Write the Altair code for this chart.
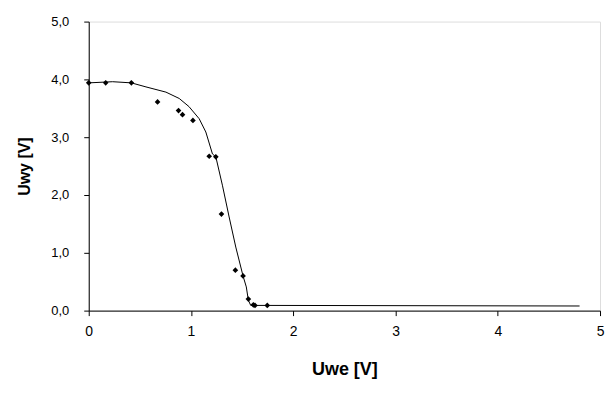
import altair as alt
import pandas as pd

# measured points (Uwe, Uwy)
pts_x = [0.0, 0.166, 0.417, 0.673, 0.878, 0.917, 1.019, 1.178, 1.243, 1.298,
         1.434, 1.509, 1.561, 1.61, 1.626, 1.746]
pts_y = [3.94, 3.94, 3.94, 3.61, 3.46, 3.39, 3.29, 2.67, 2.66, 1.67,
         0.70, 0.60, 0.20, 0.10, 0.09, 0.09]

# smooth curve
line_x = [0.0, 0.234, 0.417, 0.56, 0.755, 0.885, 0.98, 1.08, 1.145, 1.21, 1.243,
          1.307, 1.373, 1.438, 1.509, 1.541, 1.561, 1.584, 1.743, 4.80]
line_y = [3.94, 3.96, 3.94, 3.87, 3.78, 3.67, 3.53, 3.32, 3.09, 2.71, 2.66,
          2.17, 1.62, 1.10, 0.60, 0.41, 0.18, 0.09, 0.09, 0.08]

x_ticks = [0, 1, 2, 3, 4, 5]
y_ticks = [0, 1, 2, 3, 4, 5]

pts = pd.DataFrame({"x": pts_x, "y": pts_y})
ln = pd.DataFrame({"x": line_x, "y": line_y, "o": list(range(len(line_x)))})

FONT = "Liberation Sans"

xscale = alt.Scale(domain=[0, 5], nice=False)
yscale = alt.Scale(domain=[0, 5], nice=False)

xaxis = alt.Axis(title="Uwe [V]", values=x_ticks, grid=False, tickSize=5, format="d",
                 domainColor="black", tickColor="black", labelColor="black",
                 labelFont=FONT, labelFontSize=14, labelPadding=9,
                 titleFont=FONT, titleFontSize=18, titleFontWeight="bold",
                 titleColor="black", titlePadding=22, labelFlush=False)
yaxis = alt.Axis(title="Uwy [V]", values=y_ticks, grid=False, tickSize=5,
                 domainColor="black", tickColor="black", labelColor="black",
                 labelFont=FONT, labelFontSize=13, labelPadding=15,
                 labelExpr="replace(format(datum.value, '.1f'), '.', ',')",
                 titleFont=FONT, titleFontSize=16, titleFontWeight="bold",
                 titleColor="black", titlePadding=18, labelFlush=False)

line = alt.Chart(ln).mark_line(color="black", strokeWidth=1, interpolate="linear").encode(
    x=alt.X("x:Q", scale=xscale, axis=xaxis),
    y=alt.Y("y:Q", scale=yscale, axis=yaxis),
    order="o:Q",
)

points = alt.Chart(pts).mark_point(shape="diamond", filled=True, color="black",
                                   size=32, opacity=1).encode(
    x=alt.X("x:Q", scale=xscale),
    y=alt.Y("y:Q", scale=yscale),
)

chart = alt.layer(line, points).properties(
    width=513, height=290,
    autosize=alt.AutoSizeParams(type="none"),
    padding={"left": 81, "top": 13, "right": 6, "bottom": 76},
).configure_view(stroke=None).configure(background="white")

chart.save("out.html", embed_options={"renderer": "svg", "actions": False})
